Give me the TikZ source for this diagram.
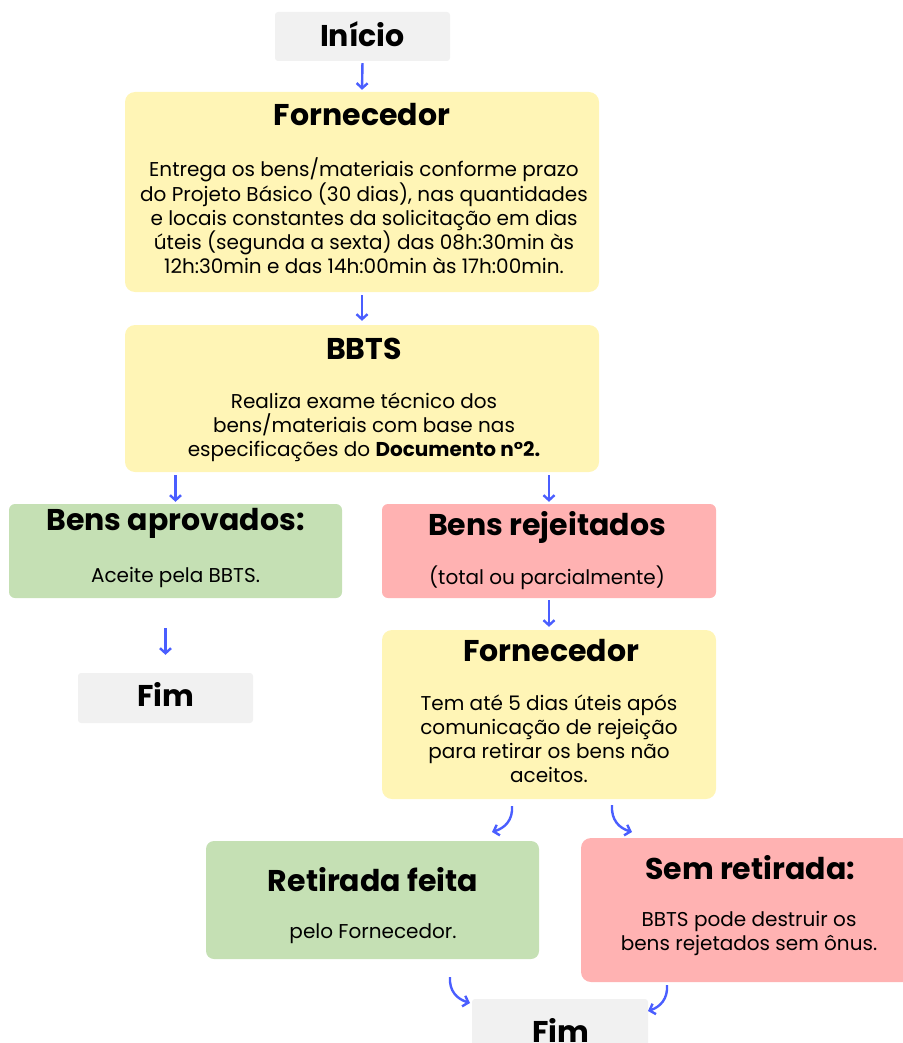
\documentclass[tikz,border=0pt]{standalone}
\usepackage{fontspec}
\setmainfont{Poppins}
\usetikzlibrary{arrows.meta}
\definecolor{ybox}{HTML}{FFF5B6}
\definecolor{gbox}{HTML}{C5E0B4}
\definecolor{rbox}{HTML}{FFB2B2}
\definecolor{kbox}{HTML}{F1F1F1}
\definecolor{arr}{HTML}{4A5EFF}
\tikzset{
  box/.style={draw=none, rounded corners=10pt, inner sep=0pt},
  term/.style={draw=none, fill=kbox, rounded corners=3pt, inner sep=0pt},
  ttl/.style={font=\fontsize{30}{34}\selectfont\bfseries, inner sep=0pt},
  bdy/.style={font=\fontsize{20}{24}\selectfont, align=center, inner sep=0pt},
  flow/.style={draw=arr, line width=2.4pt, -{Straight Barb[length=5pt,width=11pt,line width=2.4pt]}},
}
\begin{document}
\begin{tikzpicture}[x=1pt,y=-1pt]
\useasboundingbox (0,0) rectangle (902,1043);
% boxes
\node[term, minimum width=175, minimum height=49] (ini) at (362.5,36.5) {};
\node[box, fill=ybox, minimum width=474, minimum height=200] (f1) at (362,192) {};
\node[box, fill=ybox, minimum width=474, minimum height=147] (bb) at (362,398.5) {};
\node[box, fill=gbox, rounded corners=6pt, minimum width=333, minimum height=94] (apr) at (175.5,551) {};
\node[box, fill=rbox, rounded corners=6pt, minimum width=334, minimum height=94] (rej) at (549,551) {};
\node[box, fill=ybox, minimum width=334, minimum height=169] (f2) at (549,714.5) {};
\node[term, minimum width=175, minimum height=50] (fim1) at (165.5,698) {};
\node[box, fill=gbox, rounded corners=8pt, minimum width=333, minimum height=118] (ret) at (372.5,900) {};
\node[box, fill=rbox, rounded corners=10pt, minimum width=340, minimum height=144] (sem) at (751,910) {};
\node[term, minimum width=176, minimum height=60] (fim2) at (560,1029) {};
% texts
\node[ttl] (tini) at (362.5,34) {Início};
\node[ttl] (tf1) at (362,115) {Fornecedor};
\node[bdy] (bf1) at (364,216) {Entrega os bens/materiais conforme prazo\\do Projeto Básico (30 dias), nas quantidades\\e locais constantes da solicitação em dias\\úteis (segunda a sexta) das 08h:30min às\\12h:30min e das 14h:00min às 17h:00min.};
\node[ttl] (tbb) at (364,349) {BBTS};
\node[bdy] (bbb) at (364,427) {Realiza exame técnico dos\\bens/materiais com base nas\\especificações do \textbf{Documento n°2.}};
\node[ttl] (tapr) at (175.5,523) {Bens aprovados:};
\node[bdy] (bapr) at (175.5,577) {Aceite pela BBTS.};
\node[ttl] (trej) at (547,527) {Bens rejeitados};
\node[bdy] (brej) at (547,578) {(total ou parcialmente)};
\node[ttl] (tf2) at (551,651) {Fornecedor};
\node[bdy] (bf2) at (549,739) {Tem até 5 dias úteis após\\comunicação de rejeição\\para retirar os bens não\\aceitos.};
\node[ttl] (tfim1) at (166,694) {Fim};
\node[ttl] (tret) at (373,880) {Retirada feita};
\node[bdy] (bret) at (373,934) {pelo Fornecedor.};
\node[ttl] (tsem) at (750,868) {Sem retirada:};
\node[bdy] (bsem) at (749,933.5) {BBTS pode destruir os\\bens rejetados sem ônus.};
\node[ttl] (tfim2) at (561,1030) {Fim};
% coordinates for curved arrows
\coordinate (c1s) at (512,806); \coordinate (c1e) at (492,832);
\coordinate (c2s) at (612,805); \coordinate (c2e) at (632,832);
\coordinate (c3s) at (450,977); \coordinate (c3e) at (470,1003);
\coordinate (c4s) at (667,985); \coordinate (c4e) at (648,1011);
% arrows
\draw[flow, shorten <=2pt, shorten >=2pt] (ini.south) -- (f1.north);
\draw[flow, shorten <=3pt, shorten >=4pt] (f1.south) -- (bb.north);
\draw[flow, shorten <=3pt, shorten >=2pt] (bb.south -| apr.north) -- (apr.north);
\draw[flow, shorten <=3pt, shorten >=2pt] (bb.south -| rej.north) -- (rej.north);
\draw[flow, shorten <=2pt, shorten >=3pt] (rej.south) -- (f2.north);
\draw[flow, shorten <=30pt, shorten >=18pt] (apr.south -| fim1.north) -- (fim1.north);
\draw[flow] (c1s) .. controls (513,820) and (505,828) .. (c1e);
\draw[flow] (c2s) .. controls (611,820) and (619,828) .. (c2e);
\draw[flow] (c3s) .. controls (449,991) and (457,999) .. (c3e);
\draw[flow] (c4s) .. controls (668,999) and (660,1007) .. (c4e);
\end{tikzpicture}
\end{document}
